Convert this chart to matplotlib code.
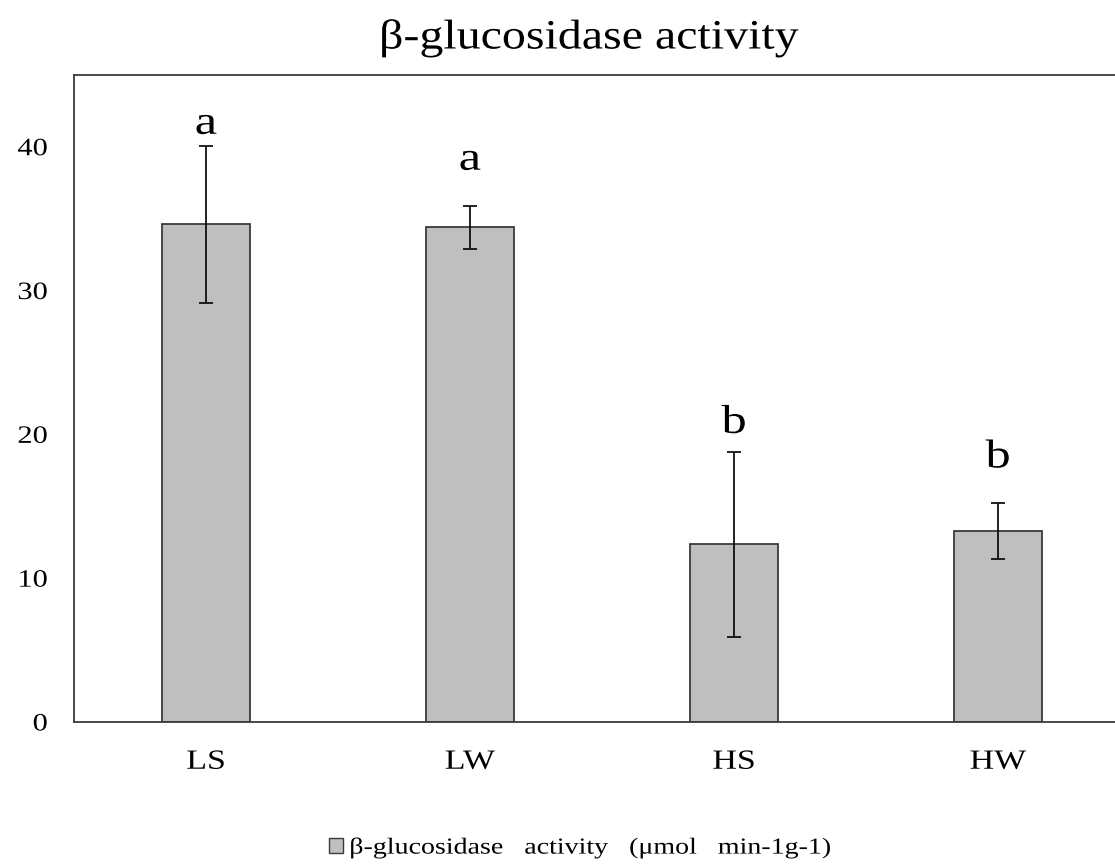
import matplotlib.pyplot as plt
from matplotlib.patches import Patch
from matplotlib.patheffects import AbstractPathEffect
from matplotlib.transforms import Affine2D

plt.rcParams['font.family'] = ['Liberation Serif', 'DejaVu Serif']

# beta-glucosidase activity per treatment (umol min-1 g-1)
groups = ['LS', 'LW', 'HS', 'HW']
activity = [34.6, 34.4, 12.35, 13.25]
sd = [5.45, 1.5, 6.45, 1.95]
letters = ['a', 'a', 'b', 'b']
letter_y = [40.9, 38.4, 20.1, 17.7]


class Widen(AbstractPathEffect):
    """Stretch glyphs horizontally about the left, centre or right edge."""

    def __init__(self, sx, anchor='center'):
        super().__init__()
        self.sx = sx
        self.anchor = anchor

    def draw_path(self, renderer, gc, tpath, affine, rgbFace=None):
        ext = tpath.get_extents()
        cx = {'left': ext.x0, 'right': ext.x1,
              'center': 0.5 * (ext.x0 + ext.x1)}[self.anchor]
        stretch = Affine2D().translate(-cx, 0).scale(self.sx, 1).translate(cx, 0)
        renderer.draw_path(gc, tpath, stretch + affine, rgbFace)


fig = plt.figure(figsize=(11.15, 8.64), dpi=100)
# axis runs past the right edge of the figure, so no right spine shows
ax = fig.add_axes([0.0664, 0.1644, 0.947, 0.749])

x = range(len(groups))
ax.bar(x, activity, width=0.333, color='#bfbfbf', edgecolor='#3a3a3a',
       linewidth=1.3, zorder=2)
ax.errorbar(x, activity, yerr=sd, linestyle='none', ecolor='#111111',
            elinewidth=1.3, capsize=5, capthick=1.3, zorder=3)

for xi, lab, yl in zip(x, letters, letter_y):
    ax.text(xi, yl, lab, ha='center', va='baseline', fontsize=29,
            path_effects=[Widen(1.25)])

ax.set_xlim(-0.5, 3.5)
ax.set_ylim(0, 45)
ax.set_yticks([0, 10, 20, 30, 40])
ax.set_xticks(list(x))
ax.set_xticklabels(groups)
ax.tick_params(axis='y', length=0, pad=19, labelsize=18)
ax.tick_params(axis='x', length=0, pad=20, labelsize=20)
for t in ax.get_yticklabels():
    t.set_path_effects([Widen(1.22, 'right')])
for t in ax.get_xticklabels():
    t.set_path_effects([Widen(1.22)])
for side in ['left', 'bottom', 'top', 'right']:
    ax.spines[side].set_color('#3a3a3a')
    ax.spines[side].set_linewidth(1.3)

fig.text(589 / 1115, 1 - 38 / 864, '\u03b2-glucosidase activity', ha='center',
         va='center', fontsize=30, path_effects=[Widen(1.15)])

handle = Patch(facecolor='#bfbfbf', edgecolor='#3a3a3a', linewidth=1.0)
leg = fig.legend([handle],
                 ['\u03b2-glucosidase   activity   (\u03bcmol   min-1g-1)'],
                 loc='center left', bbox_to_anchor=(329 / 1115, 1 - 848 / 864),
                 frameon=False, fontsize=16.5, borderpad=0, borderaxespad=0,
                 handlelength=0.6, handleheight=0.6, handletextpad=0.3)
leg.get_texts()[0].set_path_effects([Widen(1.22, 'left')])

fig.savefig('out.png', dpi=100)
